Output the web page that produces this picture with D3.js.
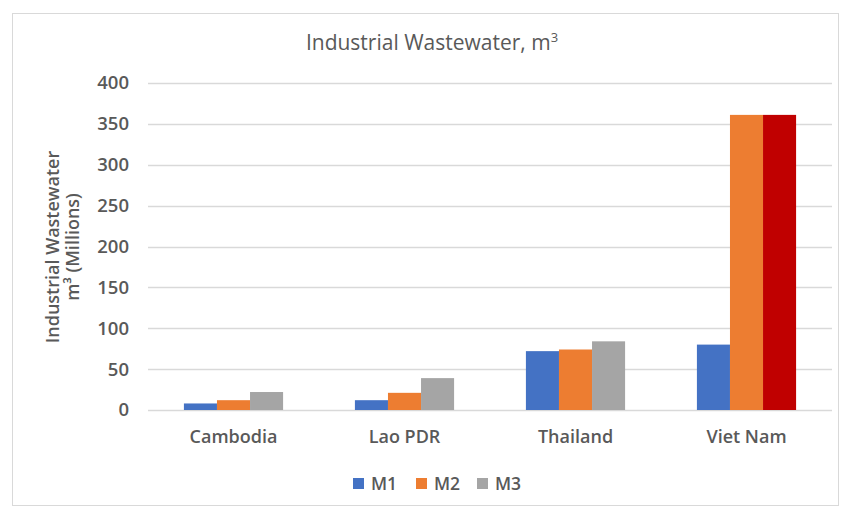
<!DOCTYPE html>
<html><head><meta charset="utf-8">
<script src="https://cdn.jsdelivr.net/npm/d3@7"></script>
<style>
html,body{margin:0;padding:0;background:#fff;}
text{font-family:"Open Sans",sans-serif;}
</style></head>
<body>
<svg id="chart" width="841" height="508"></svg>
<script>
const categories = ["Cambodia", "Lao PDR", "Thailand", "Viet Nam"];
const seriesNames = ["M1", "M2", "M3"];
const M1 = [8, 12, 72, 80];
const M2 = [12, 21, 74, 361];
const M3 = [22, 39, 84, 361];
const yTicks = [0, 50, 100, 150, 200, 250, 300, 350, 400];
const seriesColors = ["#4472C4", "#ED7D31", "#A5A5A5"];
const highlightColor = "#C00000"; // Viet Nam M3 highlighted

const seriesValues = [M1, M2, M3];
const svg = d3.select("#chart");

// chart border
svg.append("rect").attr("x", 12.5).attr("y", 13.5).attr("width", 826).attr("height", 492)
  .attr("fill", "#fff").attr("stroke", "#D9D9D9").attr("stroke-width", 1);

const pLeft = 148, pRight = 832, pTop = 83, pBottom = 410;
const y = d3.scaleLinear().domain([0, 400]).range([pBottom, pTop]);
const x0 = d3.scaleBand().domain(categories).range([pLeft, pRight]).paddingInner(0.42).paddingOuter(0.21);
const x1 = d3.scaleBand().domain(seriesNames).range([0, x0.bandwidth()]);

// gridlines
svg.append("g").selectAll("line").data(yTicks).join("line")
  .attr("x1", pLeft).attr("x2", pRight)
  .attr("y1", d => Math.round(y(d)) + 0.5).attr("y2", d => Math.round(y(d)) + 0.5)
  .attr("stroke", "#D9D9D9").attr("stroke-width", 1.5);

// y axis labels
const yAxis = d3.axisLeft(y).tickValues(yTicks).tickSize(0).tickPadding(19);
const gy = svg.append("g").attr("transform", `translate(${pLeft},0)`).call(yAxis);
gy.select(".domain").remove();
gy.selectAll("text").attr("font-size", 18.5).attr("font-weight", 600).attr("fill", "#595959")
  .style("font-family", "'Open Sans',sans-serif");

// bars
const groups = svg.append("g").selectAll("g").data(categories).join("g")
  .attr("transform", d => `translate(${x0(d)},0)`);
groups.selectAll("rect").data((c, ci) => seriesNames.map((s, si) => ({c, ci, s, si, v: seriesValues[si][ci]})))
  .join("rect")
  .attr("x", d => x1(d.s))
  .attr("width", x1.bandwidth())
  .attr("y", d => y(d.v))
  .attr("height", d => y(0) - y(d.v))
  .attr("fill", d => (d.c === "Viet Nam" && d.s === "M3") ? highlightColor : seriesColors[d.si]);

// x axis labels
const xAxis = d3.axisBottom(x0).tickSize(0).tickPadding(20);
const gx = svg.append("g").attr("transform", `translate(0,${pBottom})`).call(xAxis);
gx.select(".domain").remove();
gx.selectAll("text").attr("font-size", 18).attr("font-weight", 600).attr("fill", "#595959")
  .style("font-family", "'Open Sans',sans-serif");

// title
const title = svg.append("text").attr("x", 432).attr("y", 50).attr("text-anchor", "middle")
  .attr("font-size", 21).attr("font-weight", 500).attr("fill", "#595959");
title.append("tspan").text("Industrial Wastewater, m");
title.append("tspan").attr("font-size", 13).attr("dy", -8).text("3");

// y axis title
svg.append("text").attr("transform", "translate(59,247) rotate(-90)").attr("text-anchor", "middle")
  .attr("font-size", 18).attr("font-weight", 600).attr("fill", "#595959").text("Industrial Wastewater");
svg.append("text").attr("transform", "translate(79,247) rotate(-90)").attr("text-anchor", "middle")
  .attr("font-size", 18).attr("font-weight", 600).attr("fill", "#595959").text("m³ (Millions)");

// legend
const legendX = [353, 416, 477];
const lg = svg.append("g").selectAll("g").data(seriesNames).join("g")
  .attr("transform", (d, i) => `translate(${legendX[i]},478)`);
lg.append("rect").attr("width", 11).attr("height", 11).attr("fill", (d, i) => seriesColors[i]);
lg.append("text").attr("x", 18).attr("y", 11.5).attr("font-size", 17.5).attr("font-weight", 600)
  .attr("fill", "#595959").text(d => d);
</script>
</body></html>
